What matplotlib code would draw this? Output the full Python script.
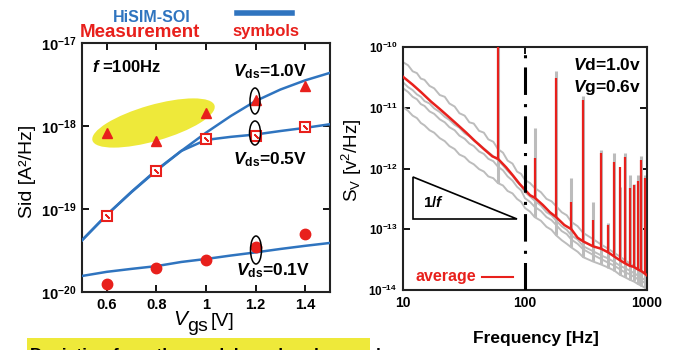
import numpy as np
import matplotlib
matplotlib.use('Agg')
import matplotlib.pyplot as plt
from matplotlib.patches import Ellipse, Rectangle, Polygon
from matplotlib.ticker import FixedLocator, FuncFormatter, NullLocator
from matplotlib.lines import Line2D

plt.rcParams['font.family'] = ['Liberation Sans', 'DejaVu Sans']
plt.rcParams['mathtext.fontset'] = 'custom'
plt.rcParams['mathtext.rm'] = 'Liberation Sans:bold'
plt.rcParams['mathtext.it'] = 'Liberation Sans:italic:bold'
plt.rcParams['mathtext.bf'] = 'Liberation Sans:bold'

# ---------------- data: left panel (Sid vs Vgs at f=100Hz) ----------------
vgs_meas = [0.6, 0.8, 1.0, 1.2, 1.4]
meas_vds10 = [8.2e-19, 6.6e-19, 1.44e-18, 2.06e-18, 3.0e-18]
meas_vds05 = [8.3e-20, 2.9e-19, 6.9e-19, 7.6e-19, 9.7e-19]
meas_vds01 = [1.25e-20, 1.94e-20, 2.4e-20, 3.5e-20, 5.0e-20]

vgs_model = [0.5, 0.6, 0.7, 0.8, 0.9, 1.0, 1.1, 1.2, 1.3, 1.4, 1.5]
model_vds10 = [4.2e-20, 8.5e-20, 1.6e-19, 2.9e-19, 5.0e-19, 8.3e-19, 1.32e-18, 2.0e-18, 2.75e-18, 3.55e-18, 4.37e-18]
model_vds05 = [4.2e-20, 8.5e-20, 1.62e-19, 2.95e-19, 5.0e-19, 6.8e-19, 7.4e-19, 7.9e-19, 8.7e-19, 9.5e-19, 1.05e-18]
model_vds01 = [1.56e-20, 1.75e-20, 1.9e-20, 2.05e-20, 2.3e-20, 2.5e-20, 2.75e-20, 3.0e-20, 3.3e-20, 3.6e-20, 3.9e-20]

x_ticks_left = [0.6, 0.8, 1.0, 1.2, 1.4]
x_ticklabels_left = ['0.6', '0.8', '1', '1.2', '1.4']

# ---------------- data: right panel (Sv spectra, log10 values) ----------------
freq = [10, 12, 14, 17, 20, 24, 28, 33, 39, 46, 54, 60, 70, 80, 90, 100, 110, 120, 140, 160,
        180, 210, 240, 270, 300, 360, 420, 480, 540, 600, 660, 720, 780, 840, 900, 960, 1000]
log_avg = [-10.49, -10.62, -10.74, -10.90, -11.02, -11.16, -11.28, -11.41, -11.55, -11.68, -11.80, -11.84,
           -11.98, -12.12, -12.25, -12.35, -12.44, -12.48, -12.60, -12.72, -12.80, -12.93, -13.00, -13.14,
           -13.20, -13.28, -13.32, -13.38, -13.45, -13.51, -13.56, -13.60, -13.62, -13.66, -13.69, -13.73, -13.76]

freq_g = [10, 11, 12, 13, 14, 15, 16.5, 18, 20, 22, 24, 26.5, 29, 32, 35, 38, 42, 46, 50, 55, 60, 66, 72,
          79, 86, 93, 100, 110, 120, 135, 150, 165, 180, 200, 220, 240, 270, 300, 360, 420, 480, 540, 600,
          660, 720, 780, 840, 900, 960, 1000]
log_g1 = [-10.25, -10.30, -10.40, -10.43, -10.52, -10.54, -10.64, -10.68, -10.79, -10.82, -10.93, -10.98,
          -11.09, -11.13, -11.24, -11.26, -11.38, -11.41, -11.52, -11.56, -11.68, -11.74, -11.87, -11.92,
          -12.05, -12.09, -12.19, -12.24, -12.32, -12.39, -12.50, -12.54, -12.62, -12.72, -12.77, -12.88,
          -12.95, -13.06, -13.16, -13.25, -13.32, -13.39, -13.45, -13.51, -13.56, -13.61, -13.66, -13.70,
          -13.74, -13.77]
log_g2 = [-10.58, -10.66, -10.71, -10.78, -10.82, -10.89, -10.93, -11.01, -11.07, -11.15, -11.20, -11.28,
          -11.33, -11.42, -11.47, -11.54, -11.60, -11.67, -11.73, -11.80, -11.86, -11.95, -12.04, -12.12,
          -12.22, -12.29, -12.39, -12.46, -12.53, -12.61, -12.72, -12.77, -12.86, -12.95, -13.01, -13.10,
          -13.17, -13.28, -13.36, -13.43, -13.48, -13.54, -13.60, -13.64, -13.68, -13.72, -13.76, -13.80,
          -13.83, -13.86]
log_g3 = [-10.68, -10.74, -10.82, -10.86, -10.94, -10.97, -11.06, -11.10, -11.19, -11.24, -11.32, -11.37,
          -11.46, -11.51, -11.59, -11.63, -11.72, -11.76, -11.84, -11.88, -11.97, -12.03, -12.13, -12.20,
          -12.30, -12.36, -12.49, -12.55, -12.63, -12.70, -12.80, -12.85, -12.93, -13.03, -13.08, -13.17,
          -13.24, -13.33, -13.42, -13.49, -13.55, -13.60, -13.66, -13.71, -13.74, -13.78, -13.82, -13.85,
          -13.88, -13.91]
log_g4 = [-10.99, -11.05, -11.13, -11.17, -11.25, -11.29, -11.37, -11.41, -11.50, -11.55, -11.63, -11.68,
          -11.77, -11.81, -11.89, -11.93, -12.01, -12.05, -12.13, -12.16, -12.24, -12.28, -12.37, -12.41,
          -12.50, -12.55, -12.65, -12.71, -12.80, -12.86, -12.96, -13.01, -13.10, -13.18, -13.24, -13.30,
          -13.37, -13.46, -13.53, -13.58, -13.63, -13.68, -13.75, -13.79, -13.83, -13.86, -13.90, -13.93,
          -13.96, -13.98]

harmonics = [60, 120, 180, 240, 300, 360, 420, 480, 540, 600, 660, 720, 780, 840, 900, 960]
log_avg_peak = [-9.5, -11.83, -10.51, -12.55, -10.87, -12.85, -11.74, -12.93, -11.89, -11.98,
                -11.81, -12.32, -12.27, -12.20, -11.86, -12.16]
log_gray_peak = [-9.5, -11.33, -10.40, -12.16, -10.80, -12.55, -11.70, -12.90, -11.74, -12.30,
                 -11.75, -12.10, -12.25, -12.10, -11.80, -12.10]

BLUE = '#2f74bf'
RED = '#e8201c'
GRAY = '#bcbcbc'
YELLOW = '#eee93a'

W, H = 676, 350
fig = plt.figure(figsize=(W / 100, H / 100), dpi=100)


def fx(x):
    return x / W


def fy(y):
    return 1 - y / H


def sci_fmt(v, pos):
    e = int(round(np.log10(v)))
    return r'$10^{%d}$' % e


# ======================= LEFT PANEL =======================
axL = fig.add_axes([fx(82), fy(292), 248 / W, 249 / H])
axL.set_yscale('log')
axL.set_xlim(0.5, 1.5)
axL.set_ylim(1e-20, 1e-17)

# yellow highlight ellipse (in figure inches)
ell = Ellipse((1.535, (H - 123) / 100), 1.27, 0.36, angle=16, transform=fig.dpi_scale_trans,
              facecolor=YELLOW, edgecolor='none', zorder=1)
axL.add_patch(ell)

axL.plot(vgs_model, model_vds10, color=BLUE, lw=1.8, zorder=3)
axL.plot(vgs_model, model_vds05, color=BLUE, lw=1.8, zorder=3)
axL.plot(vgs_model, model_vds01, color=BLUE, lw=1.8, zorder=3)

axL.plot(vgs_meas, meas_vds10, ls='none', marker='^', ms=7, color=RED, zorder=4)
axL.plot(vgs_meas, meas_vds05, ls='none', marker='s', ms=7, mfc='white', mec=RED, mew=1.5, zorder=4)
axL.plot(vgs_meas, meas_vds05, ls='none', marker=(2, 2, 45), ms=4, mec=RED, mew=1.2, zorder=5)
axL.plot(vgs_meas, meas_vds01, ls='none', marker='o', ms=7.5, color=RED, zorder=4)

# small loop marks around Vgs=1.2
for (cx, cy, w, h) in [(255, 101, 10, 26), (255, 133, 11, 24), (256, 250, 11, 28)]:
    e = Ellipse((cx / 100, (H - cy) / 100), w / 100, h / 100, transform=fig.dpi_scale_trans,
                facecolor='none', edgecolor='black', lw=1.1, zorder=6)
    axL.add_patch(e)

axL.xaxis.set_major_locator(FixedLocator(x_ticks_left))
axL.set_xticklabels(x_ticklabels_left)
axL.yaxis.set_major_locator(FixedLocator([1e-20, 1e-19, 1e-18, 1e-17]))
axL.yaxis.set_minor_locator(NullLocator())
axL.yaxis.set_major_formatter(FuncFormatter(sci_fmt))
axL.tick_params(direction='in', length=5, width=1.3, top=True, right=True, labelsize=10.5, pad=4)
for lab in axL.get_xticklabels():
    lab.set_fontweight('bold')
for s in axL.spines.values():
    s.set_linewidth(1.5)
    s.set_color('#222222')

# texts (left)
fig.text(fx(27), fy(171), 'Sid [A²/Hz]', rotation=90, ha='center', va='center', fontsize=14)
fig.text(fx(173), fy(325), 'V', fontsize=15, style='italic', ha='left', va='baseline')
fig.text(fx(187), fy(331), 'gs', fontsize=14, ha='left', va='baseline')
fig.text(fx(211), fy(326), '[V]', fontsize=14, ha='left', va='baseline')
fig.text(fx(92), fy(72), r'$f$ =100Hz', fontsize=12, fontweight='bold', ha='left', va='baseline')
fig.text(fx(233), fy(76), r'$V_{\rm ds}$=1.0V', fontsize=12.5, fontweight='bold', ha='left', va='baseline')
fig.text(fx(233), fy(164), r'$V_{\rm ds}$=0.5V', fontsize=12.5, fontweight='bold', ha='left', va='baseline')
fig.text(fx(236), fy(275), r'$V_{\rm ds}$=0.1V', fontsize=12.5, fontweight='bold', ha='left', va='baseline')

fig.text(fx(113), fy(22), 'HiSIM-SOI', color=BLUE, fontsize=11.5, fontweight='bold', ha='left', va='baseline')
fig.add_artist(Line2D([fx(237), fx(292)], [fy(13), fy(13)], color=BLUE, lw=4, transform=fig.transFigure))
fig.text(fx(80), fy(37), 'Measurement', color=RED, fontsize=13.5, fontweight='bold', ha='left', va='baseline')
fig.text(fx(232), fy(36), 'symbols', color=RED, fontsize=12, fontweight='bold', ha='left', va='baseline')

# bottom highlighted caption (cut off by figure edge)
fig.add_artist(Rectangle((fx(27), 0), (370 - 27) / W, 12 / H, transform=fig.transFigure,
                         facecolor=YELLOW, edgecolor='none'))
fig.text(fx(30), fy(348), 'Deviation from the model can be observed', fontsize=12.5,
         fontweight='bold', ha='left', va='top')

# ======================= RIGHT PANEL =======================
axR = fig.add_axes([fx(403), fy(290), 244 / W, 243 / H])
axR.set_xscale('log')
axR.set_yscale('log')
axR.set_xlim(10, 1000)
axR.set_ylim(1e-14, 1e-10)

fg_arr = np.array(freq_g, dtype=float)
grays = [log_g1, log_g2, log_g3, log_g4]
for g in grays:
    axR.plot(fg_arr, 10 ** np.array(g), color=GRAY, lw=1.4, zorder=2)

idx_g = [freq_g.index(h) for h in harmonics]
g_min = np.min(np.array(grays), axis=0)
axR.vlines(harmonics, 10 ** g_min[idx_g], 10 ** np.array(log_gray_peak), color=GRAY, lw=2.2, zorder=2)

f_arr = np.array(freq, dtype=float)
idx = [freq.index(h) for h in harmonics]
axR.plot(f_arr, 10 ** np.array(log_avg), color=RED, lw=1.8, zorder=3)
axR.vlines(harmonics, 10 ** np.array(log_avg)[idx], 10 ** np.array(log_avg_peak), color=RED, lw=1.6, zorder=3)

axR.axvline(100, color='black', lw=2.2, ls=(0, (9, 3, 1, 3)), zorder=4)

tri = Polygon([[(413 - 403) / 244, (290 - 177) / 243], [(413 - 403) / 244, (290 - 219) / 243],
               [(517 - 403) / 244, (290 - 219) / 243]], closed=True, transform=axR.transAxes,
              facecolor='none', edgecolor='black', lw=1.2, zorder=5)
axR.add_patch(tri)
axR.text((423 - 403) / 244, (290 - 207) / 243, r'1/$f$', transform=axR.transAxes, fontsize=11,
         fontweight='bold', ha='left', va='baseline')
axR.text((415 - 403) / 244, (290 - 281) / 243, 'average', transform=axR.transAxes, color=RED,
         fontsize=11.5, fontweight='bold', ha='left', va='baseline')
axR.add_line(Line2D([(482 - 403) / 244, (513 - 403) / 244], [(290 - 277) / 243] * 2,
                    transform=axR.transAxes, color=RED, lw=1.5))
axR.text((573 - 403) / 244, (290 - 70) / 243, r'$V$d=1.0v', transform=axR.transAxes, fontsize=12.5,
         fontweight='bold', ha='left', va='baseline')
axR.text((573 - 403) / 244, (290 - 92) / 243, r'$V$g=0.6v', transform=axR.transAxes, fontsize=12.5,
         fontweight='bold', ha='left', va='baseline')

axR.xaxis.set_major_locator(FixedLocator([10, 100, 1000]))
axR.xaxis.set_minor_locator(NullLocator())
axR.xaxis.set_major_formatter(FuncFormatter(lambda v, p: '%d' % v))
axR.yaxis.set_major_locator(FixedLocator([1e-14, 1e-13, 1e-12, 1e-11, 1e-10]))
axR.yaxis.set_minor_locator(NullLocator())
axR.yaxis.set_major_formatter(FuncFormatter(sci_fmt))
axR.tick_params(direction='in', length=5, width=1.3, top=True, right=True, pad=4)
axR.tick_params(axis='y', labelsize=8.5)
axR.tick_params(axis='x', labelsize=10)
for lab in axR.get_xticklabels():
    lab.set_fontweight('bold')
for s in axR.spines.values():
    s.set_linewidth(1.5)
    s.set_color('#222222')

fig.text(fx(352), fy(160), r'S$_\mathregular{V}$ [v$^\mathregular{2}$/Hz]', rotation=90, ha='center',
         va='center', fontsize=13.5)
fig.text(fx(536), fy(343), 'Frequency [Hz]', ha='center', va='baseline', fontsize=12.5, fontweight='bold')

fig.savefig('out.png', dpi=100)
